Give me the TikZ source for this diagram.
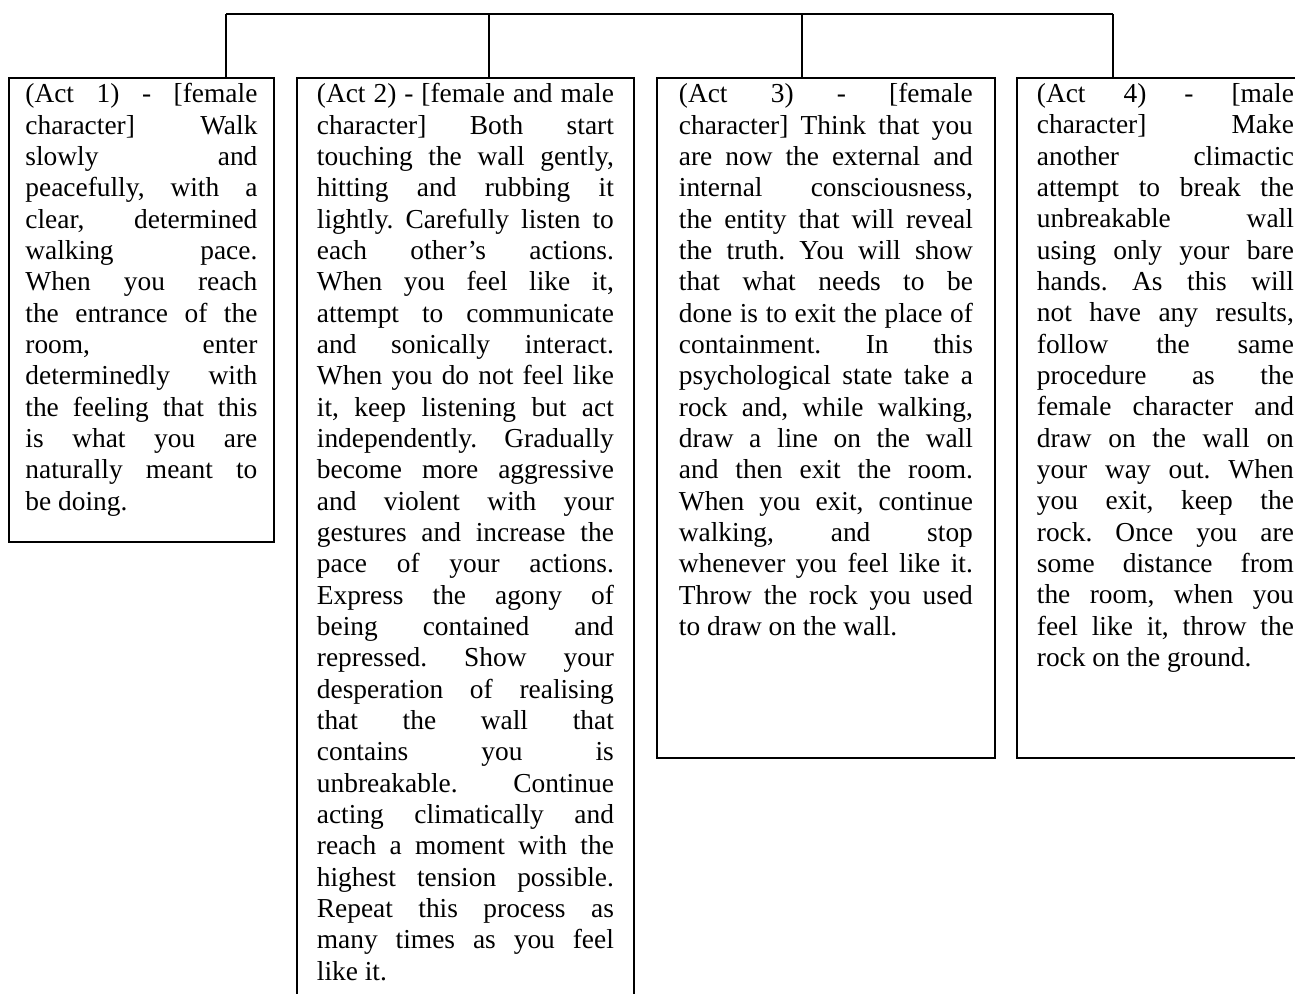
\documentclass[tikz,border=0pt]{standalone}
\usepackage{fontspec}
\setmainfont{Liberation Serif}
\hyphenpenalty=10000
\tolerance=10000
\frenchspacing
\begin{document}
\begin{tikzpicture}[x=0.5pt,y=-0.5pt,
  act/.style={anchor=north west,align=justify,inner ysep=2.5pt,
    font=\fontsize{13.7}{15.67}\selectfont},
  frame/.style={line width=1.1pt},
  link/.style={line width=1.2pt}]
\useasboundingbox (0,0) rectangle (1295,994);
\clip (0,0) rectangle (1295,994);

\node[act,text width=116pt,inner xsep=8pt] (act1) at (9,78) {(Act 1) - [female\linebreak character] Walk\linebreak slowly and\linebreak peacefully, with a\linebreak clear, determined\linebreak walking pace.\linebreak When you reach\linebreak the entrance of the\linebreak room, enter\linebreak determinedly with\linebreak the feeling that this\linebreak is what you are\linebreak naturally meant to\linebreak be doing.};
\node[act,text width=148.5pt,inner xsep=9.75pt] (act2) at (297,78) {(Act 2) - [female and male\linebreak character] Both start\linebreak touching the wall gently,\linebreak hitting and rubbing it\linebreak lightly. Carefully listen to\linebreak each other’s actions.\linebreak When you feel like it,\linebreak attempt to communicate\linebreak and sonically interact.\linebreak When you do not feel like\linebreak it, keep listening but act\linebreak independently. Gradually\linebreak become more aggressive\linebreak and violent with your\linebreak gestures and increase the\linebreak pace of your actions.\linebreak Express the agony of\linebreak being contained and\linebreak repressed. Show your\linebreak desperation of realising\linebreak that the wall that\linebreak contains you is\linebreak unbreakable. Continue\linebreak acting climatically and\linebreak reach a moment with the\linebreak highest tension possible.\linebreak Repeat this process as\linebreak many times as you feel\linebreak like it.};
\node[act,text width=147pt,inner xsep=10.75pt] (act3) at (657,78) {(Act 3) - [female\linebreak character] Think that you\linebreak are now the external and\linebreak internal consciousness,\linebreak the entity that will reveal\linebreak the truth. You will show\linebreak that what needs to be\linebreak done is to exit the place of\linebreak containment. In this\linebreak psychological state take a\linebreak rock and, while walking,\linebreak draw a line on the wall\linebreak and then exit the room.\linebreak When you exit, continue\linebreak walking, and stop\linebreak whenever you feel like it.\linebreak Throw the rock you used\linebreak to draw on the wall.};
\node[act,text width=128.5pt,inner xsep=9.75pt] (act4) at (1017,78) {(Act 4) - [male\linebreak character] Make\linebreak another climactic\linebreak attempt to break the\linebreak unbreakable wall\linebreak using only your bare\linebreak hands. As this will\linebreak not have any results,\linebreak follow the same\linebreak procedure as the\linebreak female character and\linebreak draw on the wall on\linebreak your way out. When\linebreak you exit, keep the\linebreak rock. Once you are\linebreak some distance from\linebreak the room, when you\linebreak feel like it, throw the\linebreak rock on the ground.};

\draw[frame] (act1.north west) rectangle (act1.east |- 0,542);
\draw[frame] (act2.north west) rectangle (act2.east |- 0,1010);
\draw[frame] (act3.north west) rectangle (act3.east |- 0,758);
\draw[frame] (act4.north west) rectangle (act4.east |- 0,758);

\coordinate (c1) at (226,14);
\coordinate (c2) at (489,14);
\coordinate (c3) at (802,14);
\coordinate (c4) at (1113,14);
\draw[link] (c1) -- (c4);
\draw[link] (c1) -- (c1 |- act1.north);
\draw[link] (c2) -- (c2 |- act2.north);
\draw[link] (c3) -- (c3 |- act3.north);
\draw[link] (c4) -- (c4 |- act4.north);
\end{tikzpicture}
\end{document}
